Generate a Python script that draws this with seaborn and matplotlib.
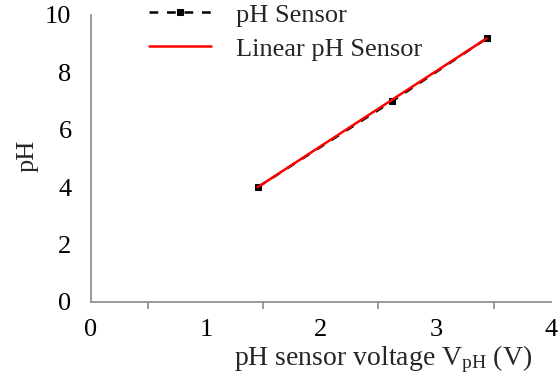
import numpy as np
import pandas as pd
import seaborn as sns
import matplotlib.pyplot as plt
from matplotlib.ticker import MultipleLocator

# data
voltage = [1.45, 2.62, 3.44]
ph_sensor = [4.0, 7.0, 9.18]
ph_linear = [4.0, 7.05, 9.18]

sns.set_style("white")
plt.rcParams['font.family'] = ['Liberation Serif', 'DejaVu Serif']
plt.rcParams['mathtext.fontset'] = 'custom'
plt.rcParams['mathtext.rm'] = 'Liberation Serif'

fs = 19

fig = plt.figure(figsize=(5.58, 3.83), dpi=100)
ax = fig.add_axes([0.163, 0.2115, 0.8245, 0.7495])

df = pd.DataFrame({'V': voltage, 'pH': ph_sensor, 'lin': ph_linear})
sns.lineplot(data=df, x='V', y='pH', ax=ax, color='black', lw=1.8,
             linestyle=(0, (3.5, 3.5)), marker='s', markersize=5,
             markeredgecolor='black', label='pH Sensor')
sns.lineplot(data=df, x='V', y='lin', ax=ax, color='red', lw=1.8,
             label='Linear pH Sensor')

ax.set_xlim(0, 4)
ax.set_ylim(0, 10)
ax.xaxis.set_major_locator(MultipleLocator(1))
ax.xaxis.set_minor_locator(MultipleLocator(0.5))
ax.yaxis.set_major_locator(MultipleLocator(2))

for s in ['top', 'right']:
    ax.spines[s].set_visible(False)
for s in ['left', 'bottom']:
    ax.spines[s].set_color('#898989')
    ax.spines[s].set_linewidth(1.2)

ax.tick_params(axis='both', which='both', color='#898989', width=1.2,
               direction='out', labelsize=fs, labelcolor='black')
ax.tick_params(axis='both', which='major', length=6)
ax.tick_params(axis='x', which='minor', length=5, bottom=True)
ax.tick_params(axis='x', pad=6)
ax.tick_params(axis='y', pad=8)

ax.set_xlabel(r'pH sensor voltage $\mathrm{V_{pH}}$ (V)', fontsize=20)
ax.xaxis.set_label_coords(0.635, -0.145)
ax.set_ylabel('pH', fontsize=fs)
ax.yaxis.set_label_coords(-0.115, 0.51)

ax.legend(loc='upper left', bbox_to_anchor=(0.103, 1.078), frameon=False,
          fontsize=fs, handlelength=2.35, handletextpad=0.95, labelspacing=0.4,
          borderaxespad=0)

fig.savefig('out.png', dpi=100)
